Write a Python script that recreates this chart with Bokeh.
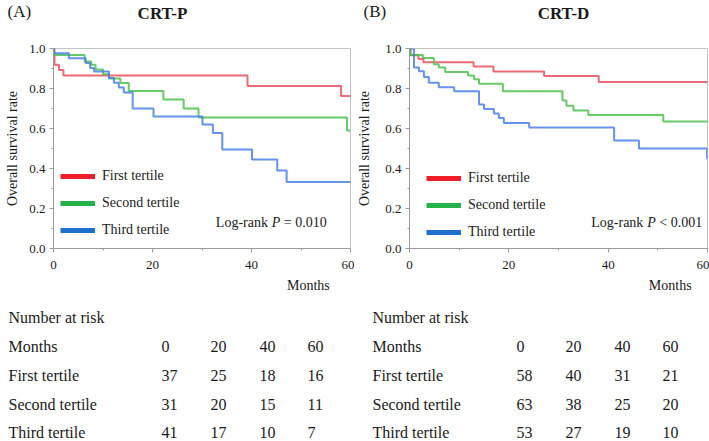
from bokeh.plotting import figure
from bokeh.layouts import column, row
from bokeh.models import (Range1d, Label, Legend, LegendItem, FixedTicker,
                          NumeralTickFormatter)
from bokeh.core.properties import value
from bokeh.embed import file_html
from bokeh.resources import INLINE

SERIF = "Liberation Serif"
NAN = float("nan")

# ---------------- data ----------------
group_names = ["First tertile", "Second tertile", "Third tertile"]
month_ticks = [0, 20, 40, 60]
surv_ticks = [0.0, 0.2, 0.4, 0.6, 0.8, 1.0]
panel_tags = ["(A)", "(B)"]
panel_titles = ["CRT-P", "CRT-D"]

# Panel A: CRT-P  (Kaplan-Meier step points: time in months, survival)
A_first_t = [0, 0.2, 1.1, 2.0, 39.2, 58.1, 60]
A_first_s = [1.0, 0.919, 0.892, 0.865, 0.813, 0.763, 0.763]
A_second_t = [0, 0.1, 6.3, 7.6, 8.5, 10.0, 11.2, 13.5, 15.2, 22.2, 26.3, 29.3, 59.3, 60]
A_second_s = [1.0, 0.968, 0.935, 0.919, 0.895, 0.871, 0.85, 0.828, 0.788, 0.745, 0.70, 0.655, 0.59, 0.59]
A_third_t = [0, 0.1, 3.1, 6.5, 7.4, 8.2, 11.2, 12.2, 13.2, 14.2, 16.0, 20.2, 30.1, 32.2, 34.1, 40.1, 45.2, 47.1, 60]
A_third_s = [1.0, 0.976, 0.951, 0.927, 0.902, 0.885, 0.853, 0.829, 0.805, 0.78, 0.70, 0.66, 0.62, 0.578, 0.495, 0.445, 0.39, 0.333, 0.333]

# Panel B: CRT-D
B_first_t = [0, 0.2, 1.8, 2.8, 12.9, 16.9, 27.1, 38.1, 60]
B_first_s = [1.0, 0.966, 0.948, 0.931, 0.91, 0.885, 0.862, 0.832, 0.832]
B_second_t = [0, 0.2, 2.7, 4.9, 5.9, 7.2, 11.8, 13.0, 14.0, 18.8, 30.8, 31.6, 33.0, 36.0, 51.1, 60]
B_second_s = [1.0, 0.968, 0.952, 0.921, 0.905, 0.883, 0.865, 0.846, 0.824, 0.786, 0.74, 0.714, 0.69, 0.667, 0.635, 0.635]
B_third_t = [0, 0.9, 1.9, 2.9, 3.9, 5.9, 9.0, 14.0, 15.0, 17.0, 18.0, 19.0, 24.1, 41.2, 46.2, 59.9, 60]
B_third_s = [1.0, 0.905, 0.886, 0.857, 0.829, 0.806, 0.786, 0.72, 0.697, 0.675, 0.652, 0.628, 0.605, 0.54, 0.50, 0.45, 0.45]

# Number at risk at months 0, 20, 40, 60
A_risk_first = [37, 25, 18, 16]
A_risk_second = [31, 20, 15, 11]
A_risk_third = [41, 17, 10, 7]
B_risk_first = [58, 40, 31, 21]
B_risk_second = [63, 38, 25, 20]
B_risk_third = [53, 27, 19, 10]

A_pvalue = "= 0.010"
B_pvalue = "< 0.001"

# ---------------- styles / layout ----------------
curve_colors = ["#e8505c", "#4cbf4c", "#4a7fe6"]
legend_colors = ["#f01e28", "#25b24a", "#1f6fcc"]
TXT = "#1a1a1a"
AX = "#9a9a9a"
TOTAL_W = 709
HEAD_H = 38
PLOT_TOP, PLOT_FRAME_H, PLOT_BOTTOM = 10, 200, 30
PLOT_H = PLOT_TOP + PLOT_FRAME_H + PLOT_BOTTOM
LOW_H = 162
A_W, A_LEFT, A_RIGHT = 354, 53, 4
B_W, B_LEFT, B_RIGHT = 355, 55, 2
A_FRAME = A_W - A_LEFT - A_RIGHT
B_FRAME = B_W - B_LEFT - B_RIGHT


def km_panel(width, left, right, ylab_standoff, curves, pval, lr_x, lr_y, leg_loc):
    p = figure(width=width, height=PLOT_H, x_range=Range1d(0, 60), y_range=Range1d(0, 1),
               output_backend="svg", toolbar_location=None,
               min_border_left=left, min_border_right=right, min_border_top=PLOT_TOP,
               min_border_bottom=PLOT_BOTTOM)
    p.background_fill_color = "white"
    p.border_fill_color = "white"
    p.xgrid.visible = False
    p.ygrid.visible = False
    p.outline_line_color = "#c4c4c4"
    p.outline_line_width = 1

    p.xaxis.ticker = FixedTicker(ticks=month_ticks, minor_ticks=[10, 30, 50])
    p.yaxis.ticker = FixedTicker(ticks=surv_ticks, minor_ticks=[0.1, 0.3, 0.5, 0.7, 0.9])
    p.yaxis.formatter = NumeralTickFormatter(format="0.0")
    for ax in (p.xaxis, p.yaxis):
        ax.axis_line_color = AX
        ax.major_tick_line_color = AX
        ax.minor_tick_line_color = AX
        ax.major_tick_out = 4
        ax.major_tick_in = 0
        ax.minor_tick_out = 2
        ax.minor_tick_in = 0
        ax.major_label_text_font = SERIF
        ax.major_label_text_font_size = "13px"
        ax.major_label_text_color = TXT
    p.xaxis.major_label_standoff = 8
    p.yaxis.major_label_standoff = 4
    p.yaxis.axis_label = "Overall survival rate"
    p.yaxis.axis_label_text_font = SERIF
    p.yaxis.axis_label_text_font_size = "14px"
    p.yaxis.axis_label_text_font_style = "normal"
    p.yaxis.axis_label_text_color = TXT
    p.yaxis.axis_label_standoff = ylab_standoff

    for (t, s), c in zip(curves, curve_colors):
        p.step(t, s, mode="after", line_color=c, line_width=2, line_alpha=0.85)

    dummies = [p.line([0, 1], [NAN, NAN], line_color=c, line_width=5) for c in legend_colors]
    legend = Legend(items=[LegendItem(label=n, renderers=[r]) for n, r in zip(group_names, dummies)],
                    location=leg_loc, orientation="vertical", border_line_color=None,
                    background_fill_alpha=0, padding=0, margin=0, spacing=7,
                    glyph_width=35, glyph_height=20, label_height=20, label_standoff=7,
                    label_text_font=SERIF, label_text_font_size="14px",
                    label_text_color=TXT)
    p.add_layout(legend)

    common = dict(text_font=SERIF, text_color=TXT, text_baseline="middle",
                  text_font_size="14px", text_align="left")
    p.add_layout(Label(x=lr_x, y=lr_y, text="Log-rank", **common))
    p.add_layout(Label(x=lr_x, y=lr_y, x_offset=56, text="P", text_font_style="italic", **common))
    p.add_layout(Label(x=lr_x, y=lr_y, x_offset=68, text=pval, **common))
    return p


def text_fig(height):
    f = figure(width=TOTAL_W, height=height, x_range=Range1d(0, TOTAL_W),
               y_range=Range1d(height, 0), output_backend="svg", toolbar_location=None,
               x_axis_type=None, y_axis_type=None, min_border=0)
    f.xgrid.visible = False
    f.ygrid.visible = False
    f.outline_line_color = None
    f.background_fill_color = "white"
    f.border_fill_color = "white"
    return f


pA = km_panel(A_W, A_LEFT, A_RIGHT, 6,
              [(A_first_t, A_first_s), (A_second_t, A_second_s), (A_third_t, A_third_s)],
              A_pvalue, 32.8, 0.13, (7, 8))
pB = km_panel(B_W, B_LEFT, B_RIGHT, 10,
              [(B_first_t, B_first_s), (B_second_t, B_second_s), (B_third_t, B_third_s)],
              B_pvalue, 36.6, 0.13, (17, 6))

# ---------------- header (panel tags and titles) ----------------
head = text_fig(HEAD_H)
frame_left = [A_LEFT, A_W + B_LEFT]
tag_x = [7, A_W + 9]
title_x = [frame_left[0] + 109, frame_left[1] + 154]
head.text(x=tag_x, y=[11, 11], text=panel_tags, text_font=value(SERIF), text_font_size="17px",
          text_color=TXT, text_align="left", text_baseline="middle")
head.text(x=title_x, y=[13, 13], text=panel_titles, text_font=value(SERIF), text_font_size="17px",
          text_font_style="bold", text_color=TXT, text_align="center", text_baseline="middle")

# ---------------- "Months" + number-at-risk table ----------------
tab = text_fig(LOW_H)
months_x = [frame_left[0] + A_FRAME * 51.5 / 60, frame_left[1] + B_FRAME * 52.5 / 60]
tab.text(x=months_x, y=[7, 7], text=["Months", "Months"], text_font=value(SERIF),
         text_font_size="14px", text_color=TXT, text_align="center", text_baseline="middle")

row_y = [39, 68, 97, 126, 154]
panels = [
    (8, [161, 210, 259, 307], [A_risk_first, A_risk_second, A_risk_third]),
    (372, [516, 565, 614, 662], [B_risk_first, B_risk_second, B_risk_third]),
]
xs, ys, texts = [], [], []
for lx, cols, risks in panels:
    xs.append(lx); ys.append(row_y[0]); texts.append("Number at risk")
    xs.append(lx); ys.append(row_y[1]); texts.append("Months")
    for cx, m in zip(cols, month_ticks):
        xs.append(cx); ys.append(row_y[1]); texts.append(str(m))
    for gi, (name, vals) in enumerate(zip(group_names, risks)):
        yy = row_y[2 + gi]
        xs.append(lx); ys.append(yy); texts.append(name)
        for cx, v in zip(cols, vals):
            xs.append(cx); ys.append(yy); texts.append(str(v))

tab.text(x=xs, y=ys, text=texts, text_font=value(SERIF), text_font_size="16px",
         text_color=TXT, text_align="left", text_baseline="middle")

layout = column(head, row(pA, pB, spacing=0), tab, spacing=0)
open("out.html", "w").write(file_html(layout, INLINE))
